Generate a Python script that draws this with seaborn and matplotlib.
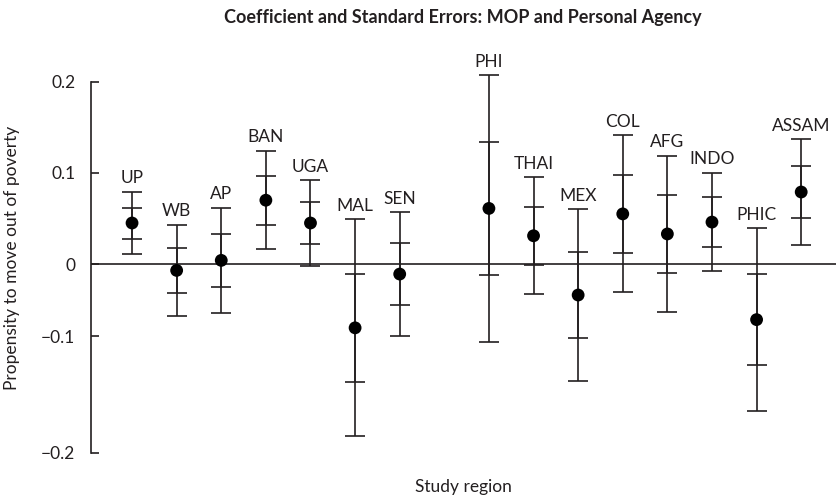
import numpy as np
import matplotlib
matplotlib.use("Agg")
import matplotlib.pyplot as plt
import seaborn as sns
import pandas as pd

# study regions (blank slot between SEN and PHI as in the original figure)
regions = ["UP", "WB", "AP", "BAN", "UGA", "MAL", "SEN", "",
           "PHI", "THAI", "MEX", "COL", "AFG", "INDO", "PHIC", "ASSAM"]
coef = [0.045, -0.007, 0.004, 0.070, 0.045, -0.070, -0.011, np.nan,
        0.061, 0.031, -0.034, 0.055, 0.033, 0.046, -0.061, 0.079]
std_err = [0.017, 0.025, 0.029, 0.027, 0.0235, 0.0595, 0.034, np.nan,
           0.073, 0.032, 0.047, 0.043, 0.043, 0.027, 0.050, 0.029]

# tick labels as printed on the original axis
ytick_vals = [0.2, 0.1, 0.0, -0.079, -0.207]
ytick_text = ["0.2", "0.1", "0", "\u22120.1", "\u22120.2"]

ink = "#231f20"

sns.set_style("ticks")
plt.rcParams["font.family"] = ["Lato", "DejaVu Sans"]
plt.rcParams["text.color"] = ink

df = pd.DataFrame({"region": regions, "coef": coef, "se": std_err})
df["pos"] = np.arange(len(df))
df = df.dropna()

fig = plt.figure(figsize=(8.37, 5.01), dpi=100)
ax = fig.add_axes([0.1084, 0.0818, 0.8904, 0.7784])

# outer bars: +/- 2 SE, inner ticks: +/- 1 SE
ax.errorbar(df["pos"], df["coef"], yerr=2 * df["se"], fmt="none",
            ecolor=ink, elinewidth=1.2, capsize=7, capthick=1.2, zorder=2)
ax.errorbar(df["pos"], df["coef"], yerr=df["se"], fmt="none",
            ecolor=ink, elinewidth=1.2, capsize=7, capthick=1.2, zorder=2)
sns.scatterplot(data=df, x="pos", y="coef", ax=ax, color="black", s=85,
                edgecolor="none", zorder=3)

for _, row in df.iterrows():
    ax.annotate(row["region"], (row["pos"], row["coef"] + 2 * row["se"]),
                xytext=(0, 4), textcoords="offset points", ha="center",
                va="bottom", fontsize=12.5, color=ink)

ax.axhline(0, color=ink, lw=1.2, zorder=1)

ax.set_xlim(-0.926, 15.78)
ax.set_ylim(-0.215, 0.2128)
ax.set_xticks([])
ax.set_yticks(ytick_vals)
ax.set_yticklabels(ytick_text)
ax.tick_params(axis="y", direction="in", length=6, width=1.2, pad=11,
               labelsize=12.5, colors=ink)
for side in ["top", "right", "bottom"]:
    ax.spines[side].set_visible(False)
ax.spines["left"].set_bounds(-0.207, 0.2)
ax.spines["left"].set_linewidth(1.2)
ax.spines["left"].set_color(ink)

ax.set_xlabel("")
ax.set_ylabel("Propensity to move out of poverty", fontsize=12.5, color=ink)
ax.yaxis.set_label_coords(-0.095, 0.518)

fig.text(463 / 837, 1 - 17 / 501,
         "Coefficient and Standard Errors: MOP and Personal Agency",
         ha="center", va="center", fontsize=13, fontweight="bold", color=ink)
fig.text(463 / 837, 1 - 487 / 501, "Study region", ha="center", va="center",
         fontsize=12.5, color=ink)

fig.savefig("out.png", dpi=100)
